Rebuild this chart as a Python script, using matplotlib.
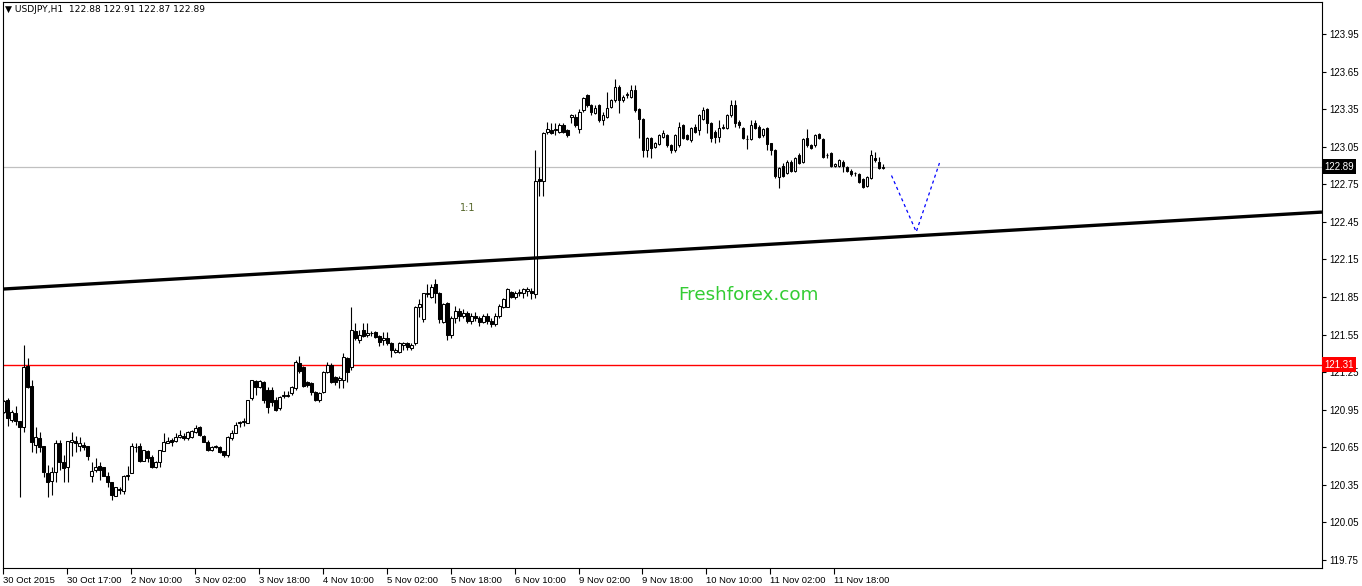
import numpy as np
import matplotlib.pyplot as plt
import matplotlib.transforms as mtransforms

# USDJPY H1 bars, 30 Oct 2015 -> 12 Nov 2015
opens = [
    120.93, 121.03, 120.87, 120.92, 120.86, 120.81, 121.30, 121.14, 120.67, 120.72,
    120.66, 120.44, 120.38, 120.45, 120.68, 120.53, 120.49, 120.69, 120.70, 120.66,
    120.67, 120.66, 120.42, 120.47, 120.50, 120.49, 120.42, 120.37, 120.26, 120.31,
    120.30, 120.42, 120.44, 120.65, 120.66, 120.54, 120.62, 120.57, 120.49, 120.53,
    120.62, 120.68, 120.71, 120.70, 120.73, 120.74, 120.72, 120.73, 120.77, 120.81,
    120.74, 120.69, 120.63, 120.65, 120.65, 120.62, 120.59, 120.72, 120.76, 120.84,
    120.85, 120.84, 121.04, 121.18, 121.13, 121.17, 121.11, 121.11, 121.03, 120.96,
    121.06, 121.06, 121.08, 121.12, 121.32, 121.29, 121.17, 121.16, 121.09, 121.03,
    121.09, 121.25, 121.31, 121.21, 121.19, 121.19, 121.36, 121.29, 121.58, 121.51,
    121.59, 121.55, 121.56, 121.57, 121.54, 121.51, 121.52, 121.48, 121.41, 121.41,
    121.47, 121.48, 121.44, 121.48, 121.77, 121.67, 121.87, 121.85, 121.95, 121.88,
    121.65, 121.80, 121.55, 121.68, 121.74, 121.70, 121.72, 121.66, 121.70, 121.68,
    121.65, 121.70, 121.66, 121.63, 121.70, 121.77, 121.77, 121.89, 121.85, 121.88,
    121.88, 121.90, 121.90, 121.87, 122.79, 122.78, 123.17, 123.18, 123.18, 123.17,
    123.22, 123.18, 123.29, 123.29, 123.19, 123.34, 123.46, 123.38, 123.32, 123.38,
    123.26, 123.29, 123.37, 123.42, 123.53, 123.42, 123.46, 123.45, 123.50, 123.35,
    123.27, 123.02, 123.12, 123.05, 123.07, 123.13, 123.14, 123.06, 123.02, 123.06,
    123.22, 123.14, 123.10, 123.21, 123.18, 123.27, 123.35, 123.24, 123.17, 123.13,
    123.20, 123.20, 123.30, 123.38, 123.25, 123.20, 123.11, 123.11, 123.24, 123.21,
    123.14, 123.20, 123.08, 123.02, 122.81, 122.90, 122.84, 122.93, 122.86, 122.98,
    122.93, 123.12, 123.06, 123.06, 123.15, 123.11, 122.98, 123.00, 122.90, 122.90,
    122.93, 122.89, 122.86, 122.84, 122.83, 122.79, 122.74, 122.80, 122.96, 122.93,
    122.88,
]
highs = [
    121.03, 121.04, 120.95, 120.98, 120.86, 121.47, 121.36, 121.19, 120.81, 120.77,
    120.66, 120.51, 120.49, 120.71, 120.71, 120.59, 120.70, 120.77, 120.74, 120.73,
    120.69, 120.66, 120.53, 120.56, 120.53, 120.49, 120.45, 120.37, 120.33, 120.33,
    120.43, 120.50, 120.68, 120.68, 120.68, 120.63, 120.63, 120.59, 120.54, 120.63,
    120.76, 120.73, 120.72, 120.76, 120.79, 120.76, 120.78, 120.79, 120.83, 120.82,
    120.75, 120.71, 120.66, 120.67, 120.66, 120.62, 120.74, 120.79, 120.85, 120.86,
    120.88, 121.03, 121.19, 121.19, 121.19, 121.18, 121.13, 121.13, 121.05, 121.06,
    121.10, 121.10, 121.14, 121.35, 121.38, 121.30, 121.18, 121.17, 121.10, 121.09,
    121.26, 121.33, 121.32, 121.22, 121.22, 121.40, 121.37, 121.77, 121.64, 121.59,
    121.64, 121.64, 121.58, 121.58, 121.55, 121.57, 121.57, 121.49, 121.44, 121.49,
    121.49, 121.49, 121.48, 121.78, 121.83, 121.88, 121.95, 121.95, 121.99, 121.89,
    121.80, 121.81, 121.70, 121.78, 121.76, 121.75, 121.74, 121.72, 121.73, 121.70,
    121.71, 121.72, 121.68, 121.72, 121.79, 121.84, 121.92, 121.90, 121.90, 121.91,
    121.92, 121.93, 121.92, 123.02, 122.89, 123.17, 123.25, 123.24, 123.24, 123.24,
    123.24, 123.19, 123.31, 123.31, 123.35, 123.45, 123.47, 123.39, 123.38, 123.39,
    123.33, 123.49, 123.43, 123.59, 123.54, 123.46, 123.49, 123.54, 123.54, 123.36,
    123.28, 123.13, 123.13, 123.09, 123.15, 123.18, 123.15, 123.07, 123.15, 123.25,
    123.23, 123.15, 123.21, 123.23, 123.31, 123.37, 123.36, 123.25, 123.18, 123.26,
    123.23, 123.31, 123.42, 123.42, 123.26, 123.21, 123.14, 123.26, 123.26, 123.22,
    123.20, 123.21, 123.08, 123.03, 122.89, 122.92, 122.94, 122.94, 122.97, 123.00,
    123.12, 123.19, 123.07, 123.15, 123.16, 123.12, 123.00, 123.01, 122.92, 122.95,
    122.94, 122.90, 122.87, 122.85, 122.84, 122.80, 122.82, 123.02, 123.01, 122.97,
    122.91,
]
lows = [
    120.92, 120.82, 120.85, 120.83, 120.25, 120.77, 121.12, 120.61, 120.60, 120.61,
    120.41, 120.25, 120.27, 120.37, 120.47, 120.37, 120.37, 120.58, 120.61, 120.62,
    120.63, 120.55, 120.37, 120.45, 120.39, 120.42, 120.33, 120.23, 120.26, 120.28,
    120.28, 120.39, 120.44, 120.61, 120.53, 120.54, 120.53, 120.48, 120.48, 120.49,
    120.62, 120.68, 120.66, 120.69, 120.72, 120.71, 120.71, 120.72, 120.76, 120.74,
    120.69, 120.62, 120.62, 120.64, 120.60, 120.57, 120.57, 120.71, 120.76, 120.81,
    120.82, 120.84, 121.03, 121.07, 121.12, 121.00, 120.92, 120.98, 120.94, 120.95,
    121.04, 121.05, 121.07, 121.11, 121.24, 121.13, 121.13, 121.07, 121.02, 121.01,
    121.08, 121.24, 121.16, 121.15, 121.12, 121.12, 121.17, 121.27, 121.51, 121.48,
    121.53, 121.53, 121.54, 121.52, 121.46, 121.47, 121.47, 121.37, 121.40, 121.40,
    121.43, 121.43, 121.43, 121.47, 121.69, 121.65, 121.85, 121.84, 121.80, 121.64,
    121.64, 121.51, 121.52, 121.64, 121.66, 121.68, 121.64, 121.63, 121.66, 121.62,
    121.64, 121.63, 121.61, 121.62, 121.68, 121.76, 121.77, 121.84, 121.83, 121.86,
    121.84, 121.86, 121.83, 121.84, 122.66, 122.66, 123.15, 123.15, 123.14, 123.16,
    123.16, 123.13, 123.24, 123.21, 123.16, 123.33, 123.37, 123.30, 123.31, 123.25,
    123.22, 123.28, 123.36, 123.41, 123.32, 123.41, 123.44, 123.44, 123.33, 123.12,
    122.97, 122.97, 122.96, 123.04, 123.06, 123.12, 123.05, 123.00, 123.01, 123.05,
    123.11, 123.10, 123.09, 123.16, 123.14, 123.26, 123.16, 123.09, 123.08, 123.09,
    123.19, 123.19, 123.29, 123.21, 123.20, 123.11, 123.03, 123.10, 123.19, 123.12,
    123.13, 123.02, 122.98, 122.80, 122.72, 122.81, 122.83, 122.85, 122.85, 122.91,
    122.92, 123.05, 123.03, 123.05, 123.11, 122.96, 122.96, 122.89, 122.89, 122.89,
    122.85, 122.85, 122.82, 122.82, 122.76, 122.72, 122.73, 122.79, 122.93, 122.87,
    122.87,
]
closes = [
    121.02, 120.88, 120.93, 120.86, 120.81, 121.29, 121.13, 120.69, 120.73, 120.65,
    120.45, 120.37, 120.45, 120.68, 120.53, 120.48, 120.70, 120.71, 120.68, 120.68,
    120.65, 120.58, 120.46, 120.49, 120.47, 120.42, 120.37, 120.27, 120.33, 120.32,
    120.42, 120.43, 120.66, 120.65, 120.54, 120.63, 120.56, 120.49, 120.53, 120.63,
    120.69, 120.70, 120.69, 120.73, 120.75, 120.72, 120.77, 120.78, 120.80, 120.75,
    120.69, 120.63, 120.65, 120.66, 120.61, 120.59, 120.73, 120.76, 120.83, 120.85,
    120.86, 121.03, 121.19, 121.13, 121.18, 121.03, 120.97, 121.01, 120.95, 121.05,
    121.07, 121.07, 121.13, 121.33, 121.26, 121.14, 121.15, 121.09, 121.03, 121.08,
    121.25, 121.31, 121.17, 121.17, 121.20, 121.37, 121.25, 121.59, 121.52, 121.55,
    121.54, 121.56, 121.56, 121.53, 121.49, 121.52, 121.48, 121.43, 121.43, 121.48,
    121.48, 121.45, 121.47, 121.77, 121.79, 121.88, 121.88, 121.93, 121.88, 121.67,
    121.79, 121.55, 121.68, 121.74, 121.70, 121.72, 121.66, 121.70, 121.68, 121.65,
    121.70, 121.66, 121.63, 121.70, 121.78, 121.83, 121.91, 121.85, 121.88, 121.89,
    121.91, 121.91, 121.88, 122.78, 122.78, 123.16, 123.19, 123.16, 123.19, 123.22,
    123.17, 123.14, 123.30, 123.22, 123.33, 123.44, 123.38, 123.33, 123.36, 123.26,
    123.30, 123.36, 123.42, 123.53, 123.42, 123.45, 123.47, 123.50, 123.34, 123.27,
    123.02, 123.12, 123.04, 123.08, 123.14, 123.16, 123.06, 123.02, 123.14, 123.21,
    123.12, 123.11, 123.20, 123.17, 123.30, 123.34, 123.24, 123.12, 123.13, 123.20,
    123.21, 123.30, 123.38, 123.24, 123.22, 123.12, 123.11, 123.22, 123.20, 123.13,
    123.19, 123.07, 123.02, 122.82, 122.88, 122.82, 122.93, 122.86, 122.96, 122.92,
    123.11, 123.06, 123.04, 123.14, 123.12, 122.97, 122.98, 122.90, 122.91, 122.94,
    122.90, 122.86, 122.83, 122.84, 122.77, 122.73, 122.81, 122.98, 122.94, 122.88,
    122.89,
]

time_labels = ['30 Oct 2015', '30 Oct 17:00', '2 Nov 10:00', '3 Nov 02:00', '3 Nov 18:00',
               '4 Nov 10:00', '5 Nov 02:00', '5 Nov 18:00', '6 Nov 10:00', '9 Nov 02:00',
               '9 Nov 18:00', '10 Nov 10:00', '11 Nov 02:00', '11 Nov 18:00']
label_bars = [0, 16, 32, 48, 64, 80, 96, 112, 128, 144, 160, 176, 192, 208]
price_ticks = [119.75, 120.05, 120.35, 120.65, 120.95, 121.25, 121.55, 121.85,
               122.15, 122.45, 122.75, 123.05, 123.35, 123.65, 123.95]

trend_bars = [-0.3, 329.8]
trend_prices = [121.913, 122.528]
proj_bars = [222.1, 228.3, 234.1]
proj_prices = [122.82, 122.37, 122.92]
support_level = 121.31
bid_price = 122.89
header = '\u25bc USDJPY,H1  122.88 122.91 122.87 122.89'

W, H = 1362, 586
fig = plt.figure(figsize=(W / 100, H / 100), dpi=100)
fig.patch.set_facecolor('white')
ax = fig.add_axes([2.5 / W, 18 / H, 1319.5 / W, 566 / H])
ax.set_facecolor('white')

ax.set_xlim(-0.3, 329.8)
ax.set_ylim(119.685, 124.206)

o = np.array(opens)
c = np.array(closes)
x = np.arange(len(o))

# wicks
ax.vlines(x, lows, highs, colors='black', linewidth=0.8, zorder=3)
# bodies: bull = hollow, bear = filled
face = np.where(c >= o, 'white', 'black')
ax.bar(x, np.abs(c - o), bottom=np.minimum(o, c), width=0.6, color=face,
       edgecolor='black', linewidth=0.75, zorder=4)

# levels
ax.axhline(bid_price, color='#c0c0c0', linewidth=0.9, zorder=1)
ax.axhline(support_level, color='#ff0000', linewidth=1.0, zorder=2)
ax.plot(trend_bars, trend_prices, color='black', linewidth=2.4, zorder=5,
        solid_capstyle='butt')
ax.plot(proj_bars, proj_prices, color='#0000ff', linewidth=0.9,
        dashes=(2.5, 2.5), zorder=5)

ax.text(116.2, 122.56, '1:1', fontsize=7, color='#55662a', ha='center', va='center')
ax.text(186.3, 121.865, 'Freshforex.com', fontsize=13.2, color='#33cc33',
        ha='center', va='center')
fig.text(5 / W, 1 - 10 / H, header, fontsize=6.6, color='black', ha='left', va='center',
         family='DejaVu Sans')

# axes
for s in ax.spines.values():
    s.set_color('black')
    s.set_linewidth(0.8)
ax.yaxis.tick_right()
ax.set_yticks(price_ticks)
ax.set_yticklabels([f'{p:.2f}' for p in price_ticks])
ax.tick_params(axis='y', direction='out', length=3, width=0.8, pad=2,
               labelsize=7, labelcolor='black')
ax.set_xticks([b - 0.2 for b in label_bars])
ax.set_xticklabels(time_labels, ha='left')
ax.tick_params(axis='x', direction='out', length=4, width=0.8, pad=1.5,
               labelsize=6.8, labelcolor='black')
for lab in ax.get_xticklabels() + ax.get_yticklabels():
    lab.set_family('Liberation Sans')

# price boxes on the right scale
trans = mtransforms.blended_transform_factory(ax.transAxes, ax.transData)
ax.text(1.0015, bid_price, f'{bid_price:.2f}', transform=trans, fontsize=7,
        family='Liberation Sans', color='white', ha='left', va='center', zorder=10,
        clip_on=False, bbox=dict(boxstyle='square,pad=0.25', fc='black', ec='none'))
ax.text(1.0015, support_level, f'{support_level:.2f}', transform=trans, fontsize=7,
        family='Liberation Sans', color='white', ha='left', va='center', zorder=10,
        clip_on=False, bbox=dict(boxstyle='square,pad=0.25', fc='#ff0000', ec='none'))

fig.savefig('out.png', dpi=100)
